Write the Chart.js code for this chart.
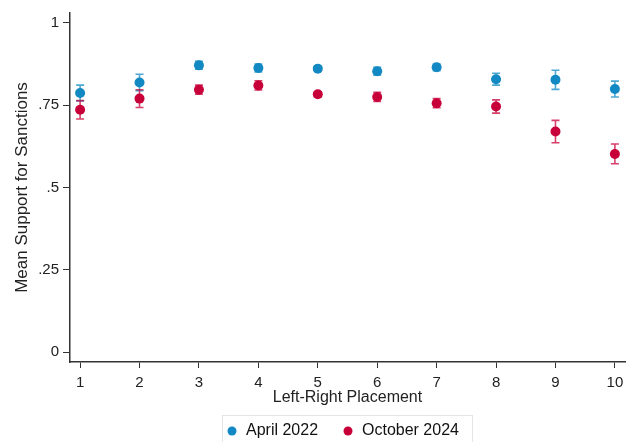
<!DOCTYPE html>
<html>
<head>
<meta charset="utf-8">
<script src="https://cdn.jsdelivr.net/npm/chart.js@4/dist/chart.umd.min.js"></script>
<style>
  html, body { margin: 0; padding: 0; background: #fff; overflow: hidden; }
  #wrap { width: 634px; height: 442px; }
</style>
</head>
<body>
<div id="wrap"><canvas id="chart" width="634" height="442"></canvas></div>
<script>
// 横軸（左右自己位置）
const placements = [1, 2, 3, 4, 5, 6, 7, 8, 9, 10];

// 2022年4月の平均と誤差幅
const april2022 = [0.787, 0.819, 0.871, 0.863, 0.861, 0.853, 0.865, 0.829, 0.827, 0.799];
const april2022Err = [0.024, 0.025, 0.012, 0.012, 0.007, 0.012, 0.010, 0.018, 0.029, 0.024];

// 2024年10月の平均と誤差幅
const october2024 = [0.736, 0.770, 0.797, 0.810, 0.783, 0.775, 0.756, 0.746, 0.670, 0.602];
const october2024Err = [0.028, 0.027, 0.014, 0.014, 0.008, 0.014, 0.014, 0.020, 0.034, 0.030];

// 縦軸の目盛り
const yTicks = [0, 0.25, 0.5, 0.75, 1];
const yTickLabels = ['0', '.25', '.5', '.75', '1'];

const COLORS = {
  april: '#1289c2',
  aprilBar: 'rgba(18,137,194,0.75)',
  october: '#c8003a',
  octoberBar: 'rgba(200,0,58,0.75)',
  axis: '#333333',
};

const FONT = 'Liberation Sans, Arial, sans-serif';

// 誤差棒を描く
const errorBars = {
  id: 'errorBars',
  beforeDatasetsDraw(chart) {
    const ctx = chart.ctx;
    const xs = chart.scales.x;
    const ys = chart.scales.y;
    chart.data.datasets.forEach(ds => {
      ctx.save();
      ctx.strokeStyle = ds.errColor;
      ctx.lineWidth = 1.6;
      ds.data.forEach((p, i) => {
        const x = xs.getPixelForValue(p.x);
        const y1 = ys.getPixelForValue(p.y + ds.err[i]);
        const y2 = ys.getPixelForValue(p.y - ds.err[i]);
        ctx.beginPath();
        ctx.moveTo(x, y1); ctx.lineTo(x, y2);
        ctx.moveTo(x - 4, y1); ctx.lineTo(x + 4, y1);
        ctx.moveTo(x - 4, y2); ctx.lineTo(x + 4, y2);
        ctx.stroke();
      });
      ctx.restore();
    });
  },
};

// 枠付きの凡例を手描き
const boxLegend = {
  id: 'boxLegend',
  afterDraw(chart) {
    const ctx = chart.ctx;
    const top = 415, left = 222, right = 472, cy = 431;
    ctx.save();
    ctx.strokeStyle = '#e2e6e8';
    ctx.lineWidth = 1;
    ctx.strokeRect(left + 0.5, top + 0.5, right - left, 40);
    ctx.font = '16px ' + FONT;
    ctx.textBaseline = 'middle';
    const items = [
      { x: 232, label: chart.data.datasets[0].label, color: chart.data.datasets[0].backgroundColor },
      { x: 348, label: chart.data.datasets[1].label, color: chart.data.datasets[1].backgroundColor },
    ];
    items.forEach(it => {
      ctx.fillStyle = it.color;
      ctx.beginPath();
      ctx.arc(it.x, cy, 4.5, 0, Math.PI * 2);
      ctx.fill();
      ctx.fillStyle = '#111';
      ctx.fillText(it.label, it.x + 14, cy);
    });
    ctx.restore();
  },
};

function toPoints(vals) {
  return vals.map((v, i) => ({ x: placements[i], y: v }));
}

new Chart(document.getElementById('chart'), {
  type: 'scatter',
  data: {
    datasets: [
      {
        label: 'April 2022',
        data: toPoints(april2022),
        err: april2022Err,
        errColor: COLORS.aprilBar,
        backgroundColor: COLORS.april,
        borderColor: COLORS.april,
        borderWidth: 0,
        pointRadius: 5,
        pointHoverRadius: 5,
      },
      {
        label: 'October 2024',
        data: toPoints(october2024),
        err: october2024Err,
        errColor: COLORS.octoberBar,
        backgroundColor: COLORS.october,
        borderColor: COLORS.october,
        borderWidth: 0,
        pointRadius: 5,
        pointHoverRadius: 5,
      },
    ],
  },
  options: {
    responsive: false,
    animation: false,
    layout: { padding: { left: 0, top: 13, right: 9, bottom: 35 } },
    plugins: {
      legend: { display: false },
      tooltip: { enabled: false },
    },
    scales: {
      x: {
        type: 'linear',
        min: 0.83,
        max: 10.17,
        afterBuildTicks: (s) => { s.ticks = placements.map(v => ({ value: v })); },
        afterFit: (s) => { s.height = 45; },
        ticks: { color: '#222', font: { family: FONT, size: 15 }, padding: 6, maxRotation: 0 },
        grid: { drawOnChartArea: false, drawTicks: true, tickLength: 6, color: COLORS.axis },
        border: { color: COLORS.axis, width: 1.5 },
        title: {
          display: true,
          text: 'Left-Right Placement',
          color: '#222',
          font: { family: FONT, size: 16 },
          padding: { top: 0, bottom: 0 },
        },
      },
      y: {
        min: -0.03,
        max: 1.03,
        afterBuildTicks: (s) => { s.ticks = yTicks.map(v => ({ value: v })); },
        afterFit: (s) => { s.width = 70; },
        ticks: {
          color: '#222',
          font: { family: FONT, size: 15 },
          padding: 4,
          callback: (v) => yTickLabels[yTicks.indexOf(v)],
        },
        grid: { drawOnChartArea: false, drawTicks: true, tickLength: 7, color: COLORS.axis },
        border: { color: COLORS.axis, width: 1.5 },
        title: {
          display: true,
          text: 'Mean Support for Sanctions',
          color: '#222',
          font: { family: FONT, size: 17 },
          padding: { top: 12, bottom: 0 },
        },
      },
    },
  },
  plugins: [errorBars, boxLegend],
});
</script>
</body>
</html>
